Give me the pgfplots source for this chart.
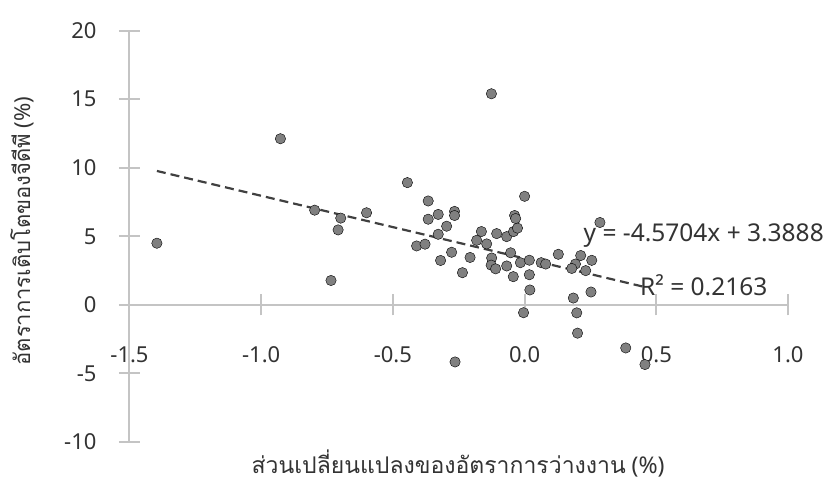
\documentclass[border=0pt]{standalone}
\usepackage{pgfplots}
\pgfplotsset{compat=1.18}
\usepackage{pgfplotstable}
\usepackage{fontspec}
\setmainfont{Noto Sans}
\newfontfamily\thaifont[Script=Thai]{Loma}

\definecolor{axisgray}{HTML}{C4C4C4}
\definecolor{labelgray}{HTML}{333333}
\definecolor{dotgray}{HTML}{808080}
\definecolor{trendgray}{HTML}{404040}

% change in unemployment rate (x) vs GDP growth (y)
\pgfplotstableread{
x       y
-1.396  4.50
-0.927  12.12
-0.797  6.91
-0.698  6.33
-0.708  5.47
-0.735  1.78
-0.600  6.72
-0.445  8.92
-0.366  7.58
-0.328  6.60
-0.366  6.25
-0.266  6.82
-0.266  6.52
-0.296  5.74
-0.328  5.15
-0.410  4.30
-0.378  4.43
-0.277  3.84
-0.319  3.24
-0.207  3.46
-0.236  2.35
-0.164  5.35
-0.182  4.71
-0.144  4.45
-0.106  5.20
-0.068  4.98
-0.042  5.35
-0.027  5.60
-0.038  6.52
-0.034  6.30
 0.000  7.92
-0.126  15.40
-0.125  3.42
-0.127  2.90
-0.110  2.63
-0.068  2.84
-0.053  3.80
-0.043  2.06
-0.016  3.08
 0.018  3.26
 0.018  2.20
 0.020  1.09
-0.004  -0.57
 0.063  3.08
 0.080  2.98
 0.128  3.69
 0.213  3.60
 0.255  3.25
 0.193  2.98
 0.179  2.66
 0.232  2.50
 0.286  6.01
 0.252  0.94
 0.185  0.50
 0.198  -0.58
 0.201  -2.06
-0.264  -4.16
 0.384  -3.14
 0.457  -4.35
}\gdpdata

\begin{document}
\begin{tikzpicture}
\path[use as bounding box] (-129.5bp,-42bp) rectangle (696.5bp,442bp);
\begin{axis}[
  at={(0,0)}, anchor=south west,
  scale only axis, width=658.5bp, height=411.3bp,
  xmin=-1.5, xmax=1.0, ymin=-10, ymax=20,
  axis x line=middle, axis y line=left,
  axis line style={draw=axisgray, line width=2bp, -},
  xtick={-1.5,-1,-0.5,0,0.5,1},
  xticklabels={-1.5,-1.0,-0.5,0.0,0.5,1.0},
  ytick={-10,-5,0,5,10,15,20},
  yticklabels={-10,-5,0,5,10,15,20},
  hide obscured x ticks=false, hide obscured y ticks=false,
  tick align=center, major tick length=21bp,
  tick style={draw=axisgray, line width=2bp},
  ticklabel style={font=\fontsize{22bp}{26bp}\selectfont, text=labelgray},
  xticklabel style={anchor=center, yshift=-39bp},
  yticklabel style={anchor=east, xshift=-19bp},
  xlabel={{\thaifont ส่วนเปลี่ยนแปลงของอัตราการว่างงาน} (\%)},
  ylabel={{\thaifont อัตราการเติบโตของจีดีพี} (\%)},
  label style={text=labelgray},
  xlabel style={font=\fontsize{23bp}{27bp}\selectfont,
    at={(axis description cs:0.499,-0.052)}, anchor=center},
  ylabel style={font=\fontsize{22bp}{26bp}\selectfont,
    at={(axis description cs:-0.1635,0.513)}, anchor=center, rotate=0},
  clip=false,
]
\addplot[only marks, mark=*, mark size=5.2bp,
  mark options={draw=none, fill=dotgray}] table[x=x, y=y] {\gdpdata};
% least-squares line y = -4.5704x + 3.3888 over the data range
\addplot[trendgray, line width=2.2bp, dash pattern=on 9bp off 5bp, no marks]
  coordinates {(-1.396,9.769) (0.457,1.300)};
\node[font=\fontsize{24.5bp}{28bp}\selectfont, text=labelgray, anchor=center]
  at (axis cs:0.68,5.09) {y = -4.5704x + 3.3888};
\node[font=\fontsize{24.5bp}{28bp}\selectfont, text=labelgray, anchor=center]
  at (axis cs:0.68,1.44) {R² = 0.2163};
\end{axis}
\end{tikzpicture}
\end{document}
